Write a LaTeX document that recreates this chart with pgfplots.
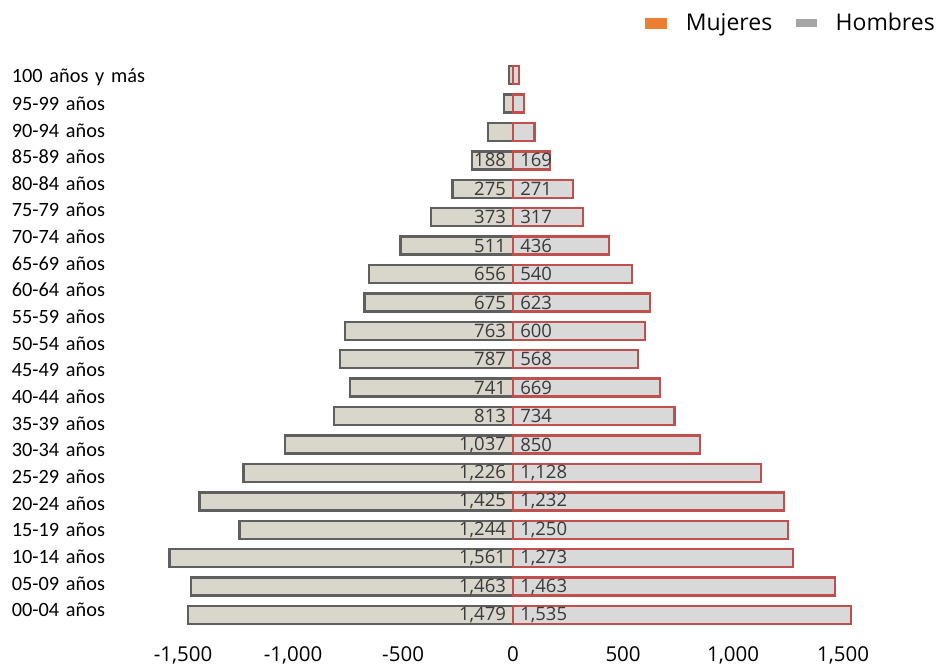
\documentclass[border=0pt]{standalone}
\usepackage{pgfplots}
\pgfplotsset{compat=1.18}
\usepackage{fontspec}
\setmainfont{Carlito}
\newfontfamily\osans{Open Sans}
\definecolor{hfill}{HTML}{D9D6CC}
\definecolor{hline}{HTML}{5F5F5F}
\definecolor{mfill}{HTML}{D9D9D9}
\definecolor{mline}{HTML}{C0504D}
\definecolor{morange}{HTML}{ED7D31}
\definecolor{hgray}{HTML}{A6A6A6}
\definecolor{lbl}{HTML}{3A3A3A}
\begin{document}
\begin{tikzpicture}
\path[use as bounding box] (0,0) rectangle (940pt,667pt);
\begin{axis}[
  at={(160pt,24pt)}, anchor=south west,
  scale only axis, width=715pt, height=583pt,
  xmin=-1605, xmax=1645, ymin=-0.985, ymax=19.53,
  axis line style={draw=none}, major tick length=0pt,
  xtick={-1500,-1000,-500,0,500,1000,1500},
  /pgf/number format/1000 sep={,},
  /pgf/number format/assume math mode=true,
  xticklabel style={font=\osans\fontsize{20.5}{24}\selectfont, text=black, inner sep=0pt, yshift=-3pt},
  ytick={0.176,1.114,2.051,2.989,3.927,4.865,5.802,6.740,7.678,8.615,9.553,10.491,11.429,12.366,13.304,14.242,15.179,16.117,17.055,17.993,18.930},
  yticklabels={00-04 años,05-09 años,10-14 años,15-19 años,20-24 años,25-29 años,30-34 años,35-39 años,40-44 años,45-49 años,50-54 años,55-59 años,60-64 años,65-69 años,70-74 años,75-79 años,80-84 años,85-89 años,90-94 años,95-99 años,100 años y más},
  yticklabel style={font=\fontsize{20.3}{24}\selectfont, text=black, anchor=east, text width=140pt, align=left, inner sep=0pt, xshift=-8pt},
  legend style={draw=none, fill=none, at={(1.0909,1.0635)}, anchor=east, legend columns=2,
    font=\osans\fontsize{23}{27}\selectfont,
    /tikz/every odd column/.append style={column sep=17pt},
    /tikz/every even column/.append style={column sep=22pt}},
  legend cell align=left,
]
% Hombres (left)
\addplot[xbar, bar width=18pt, bar shift=0pt, fill=hfill, draw=hline, line width=2.4pt, forget plot] coordinates {
(-1479,0) (-1463,1) (-1561,2) (-1244,3) (-1425,4) (-1226,5) (-1037,6) (-813,7) (-741,8) (-787,9)
(-763,10) (-675,11) (-656,12) (-511,13) (-373,14) (-275,15) (-188,16) (-114,17) (-41,18) (-18,19)};
% Mujeres (right)
\addplot[xbar, bar width=18pt, bar shift=0pt, fill=mfill, draw=mline, line width=2.4pt, forget plot] coordinates {
(1535,0) (1463,1) (1273,2) (1250,3) (1232,4) (1128,5) (850,6) (734,7) (669,8) (568,9)
(600,10) (623,11) (540,12) (436,13) (317,14) (271,15) (169,16) (98,17) (50,18) (27,19)};
% labels Hombres
\addplot[forget plot, draw=none, only marks, mark=none, nodes near coords, point meta=explicit,
  every node near coord/.append style={anchor=east, xshift=-7pt, font=\osans\fontsize{18.5}{22}\selectfont, text=lbl, inner sep=0pt}]
coordinates {(0,0) [1479] (0,1) [1463] (0,2) [1561] (0,3) [1244] (0,4) [1425] (0,5) [1226] (0,6) [1037] (0,7) [813] (0,8) [741] (0,9) [787] (0,10) [763] (0,11) [675] (0,12) [656] (0,13) [511] (0,14) [373] (0,15) [275] (0,16) [188]};
% labels Mujeres
\addplot[forget plot, draw=none, only marks, mark=none, nodes near coords, point meta=explicit,
  every node near coord/.append style={anchor=west, xshift=7pt, font=\osans\fontsize{18.5}{22}\selectfont, text=lbl, inner sep=0pt}]
coordinates {(0,0) [1535] (0,1) [1463] (0,2) [1273] (0,3) [1250] (0,4) [1232] (0,5) [1128] (0,6) [850] (0,7) [734] (0,8) [669] (0,9) [568] (0,10) [600] (0,11) [623] (0,12) [540] (0,13) [436] (0,14) [317] (0,15) [271] (0,16) [169]};
\addlegendimage{legend image code/.code={\fill[morange] (0pt,-5pt) rectangle (21pt,5pt);}}
\addlegendentry{Mujeres}
\addlegendimage{legend image code/.code={\fill[hgray] (0pt,-3.5pt) rectangle (20pt,3.5pt);}}
\addlegendentry{Hombres}
\end{axis}
\end{tikzpicture}
\end{document}
